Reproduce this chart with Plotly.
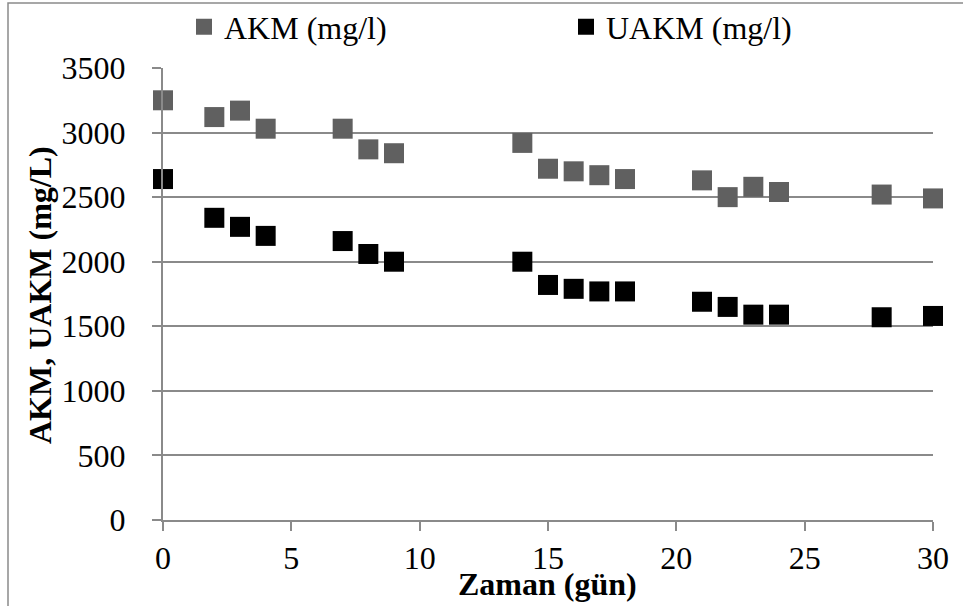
import plotly.graph_objects as go

days = [0, 2, 3, 4, 7, 8, 9, 14, 15, 16, 17, 18, 21, 22, 23, 24, 28, 30]
akm = [3250, 3120, 3170, 3030, 3030, 2870, 2840, 2920, 2720, 2700, 2670, 2640,
       2630, 2500, 2580, 2540, 2520, 2490]
uakm = [2640, 2340, 2270, 2200, 2160, 2060, 2000, 2000, 1820, 1790, 1770, 1770,
        1690, 1650, 1590, 1590, 1570, 1580]
y_ticks = [0, 500, 1000, 1500, 2000, 2500, 3000, 3500]
x_ticks = [0, 5, 10, 15, 20, 25, 30]

FONT = "Liberation Serif, Times New Roman, serif"
GRID = "#8a8a8a"
FS = 32

W, H = 963, 606
L, R, T, B = 163, 30, 68, 86
pw, ph = W - L - R, H - T - B

def px_x(p):
    return (p - L) / pw

def px_y(p):
    return (H - B - p) / ph

fig = go.Figure()
fig.add_trace(go.Scatter(
    x=days, y=akm, mode="markers", name="AKM (mg/l)", legend="legend",
    marker=dict(symbol="square", size=20, color="#606060", line=dict(width=0)),
    cliponaxis=False))
fig.add_trace(go.Scatter(
    x=days, y=uakm, mode="markers", name="UAKM (mg/l)", legend="legend2",
    marker=dict(symbol="square", size=20, color="#000000", line=dict(width=0)),
    cliponaxis=False))

fig.update_layout(
    width=W, height=H,
    margin=dict(l=L, r=R, t=T, b=B, autoexpand=False),
    paper_bgcolor="white", plot_bgcolor="white",
    font=dict(family=FONT, size=FS, color="black"),
    showlegend=True,
    legend=dict(x=px_x(184), xanchor="left", y=1 - 27 / H, yref="container",
                yanchor="middle", font=dict(size=FS), bgcolor="rgba(0,0,0,0)"),
    legend2=dict(x=px_x(566), xanchor="left", y=1 - 27 / H, yref="container",
                 yanchor="middle", font=dict(size=FS), bgcolor="rgba(0,0,0,0)"),
    xaxis=dict(range=[0, 30], tickvals=x_ticks, showgrid=False, zeroline=False,
               showline=True, linecolor=GRID, linewidth=2,
               ticks="outside", ticklen=9, tickwidth=2, tickcolor=GRID,
               tickfont=dict(size=FS), fixedrange=True),
    yaxis=dict(range=[0, 3500], tickvals=y_ticks, showgrid=True, gridcolor=GRID,
               gridwidth=2, zeroline=False, showline=True, linecolor=GRID,
               linewidth=2, ticks="outside", ticklen=9, tickwidth=2,
               tickcolor=GRID, tickfont=dict(size=FS), ticklabelstandoff=20,
               fixedrange=True),
    annotations=[
        dict(text="<b>Zaman (gün)</b>", xref="paper", yref="paper",
             x=px_x(547), y=px_y(584), xanchor="center", yanchor="middle",
             showarrow=False, font=dict(size=FS)),
        dict(text="<b>AKM, UAKM (mg/L)</b>", xref="paper", yref="paper",
             x=px_x(40), y=px_y(295), xanchor="center", yanchor="middle",
             textangle=-90, showarrow=False, font=dict(size=FS)),
    ],
    shapes=[
        dict(type="path", xref="paper", yref="paper",
             path=f"M {px_x(8)} {px_y(H + 5)} L {px_x(8)} {px_y(3)} L {px_x(W + 5)} {px_y(3)}",
             line=dict(color=GRID, width=1.5)),
    ],
)

fig.write_html("out.html")
